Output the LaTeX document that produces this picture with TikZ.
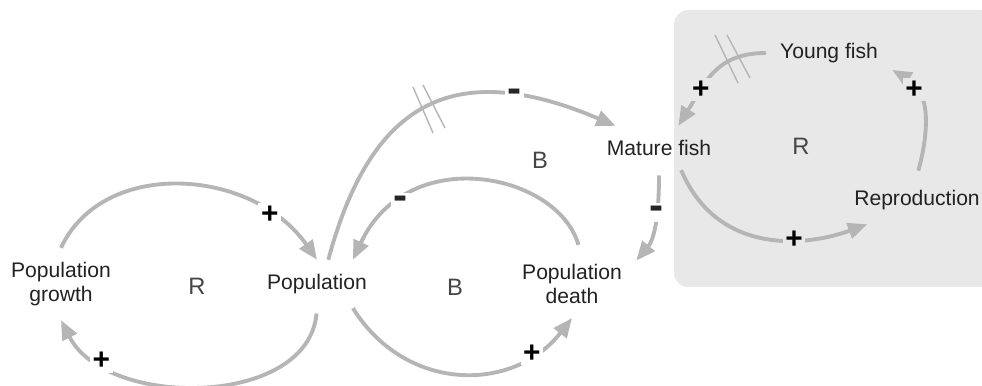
\documentclass[tikz,border=0pt]{standalone}
\usepackage{fontspec}
\setmainfont{Liberation Sans}
\usepackage{xcolor}
\usetikzlibrary{arrows.meta}

\definecolor{linkgray}{HTML}{B5B5B5}
\definecolor{boxgray}{HTML}{E8E8E8}
\definecolor{textdark}{HTML}{222222}
\definecolor{loopdark}{HTML}{454545}

\begin{document}
\begin{tikzpicture}[
    x=0.02cm, y=0.02cm,
    font=\fontsize{12}{13.6}\selectfont,
    varnode/.style={align=center, inner sep=8pt, text=textdark},
    looplabel/.style={font=\fontsize{13.5}{14}\selectfont, text=loopdark},
    link/.style={draw=linkgray, line width=2.2pt, -{Triangle[length=11pt,width=9pt]}},
    polarity/.style={font=\fontsize{17}{17}\selectfont\bfseries, fill=white, inner sep=1.5pt, text=black},
    neg/.style={polarity, font=\fontsize{24}{24}\selectfont\bfseries, text=black!85},
    delaymark/.style={draw=linkgray, line width=0.8pt}
]

\useasboundingbox (0,0) rectangle (982,385);

% Fish sub-model - grey panel on the right
\fill[boxgray, rounded corners=8pt] (674,98) rectangle (995,375);

% Variables
\node[varnode] (growth) at (61,101) {Population\\growth};
\node[varnode] (pop) at (317,101) {Population};
\node[varnode] (death) at (572,101) {Population\\death};
\node[varnode] (mature) at (659,237) {Mature fish};
\node[varnode] (young) at (829,332) {Young fish};
\node[varnode] (repro) at (917,185) {Reproduction};

% Loop labels
\node[looplabel] (loopR1) at (197,99) {R};
\node[looplabel] (loopB1) at (455,98) {B};
\node[looplabel] (loopB2) at (540,225) {B};
\node[looplabel] (loopR2) at (801,239) {R};

% Population loops
\draw[link] (growth.north) .. controls +(65:100) and +(125:112) .. (pop.north)
    node[polarity, pos=0.8] (p1) {+};
\draw[link, shorten <=3pt] (pop.south) .. controls +(-95:100) and +(-63:100) .. (growth.south)
    node[polarity, pos=0.81] (p2) {+};
\draw[link, shorten <=3pt] (death.77) .. controls +(106:80) and +(65:130) .. (pop.34)
    node[neg, pos=0.78] (p4) {-};
\draw[link] (pop.-34) .. controls +(-58:100) and +(-128:95) .. (death.south)
    node[polarity, pos=0.8] (p5) {+};

% Population to fish, with delay
\draw[link] (pop.65) .. controls +(75:170) and +(157:170) .. (mature.153)
    node[neg, pos=0.76] (p3) {-};
\draw[delaymark] (413,298) -- (433,252);
\draw[delaymark] (423,300) -- (445,257);

\draw[link, shorten <=3pt] (mature.south) .. controls +(-90:40) and +(50:30) .. (death.20)
    node[neg, pos=0.4] (p6) {-};

% Fish loop
\draw[link] (young.west) .. controls +(180:50) and +(58:50) .. (mature.49)
    node[polarity, fill=boxgray, pos=0.68] (p7) {+};
\draw[delaymark] (715,350) -- (738,302);
\draw[delaymark] (727,350) -- (750,307);

\draw[link] (mature.-45) .. controls +(-67:90) and +(200:70) .. (repro.206)
    node[polarity, fill=boxgray, pos=0.65] (p8) {+};
\draw[link, shorten <=3pt] (repro.north) .. controls +(75:45) and +(-30:45) .. (young.-15)
    node[polarity, fill=boxgray, pos=0.75] (p9) {+};

\end{tikzpicture}
\end{document}
